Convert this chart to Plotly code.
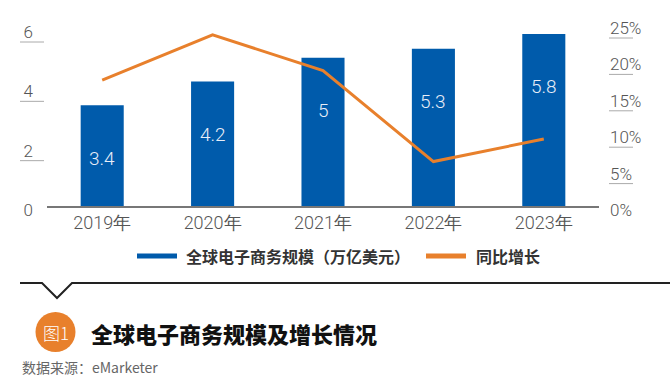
import plotly.graph_objects as go

years = ["2019年", "2020年", "2021年", "2022年", "2023年"]
scale = [3.4, 4.2, 5.0, 5.3, 5.8]
scale_labels = ["3.4", "4.2", "5", "5.3", "5.8"]
growth = [17.3, 23.5, 18.6, 6.1, 9.2]
left_ticks = [0, 2, 4, 6]
right_ticks = [0, 5, 10, 15, 20, 25]
right_tick_text = ["0%", "5%", "10%", "15%", "20%", "25%"]

BLUE = "#005BAB"
ORANGE = "#E8802C"
GREY = "#555555"
LIGHT = "Roboto, Lato, Arial, sans-serif"
CJK = "Noto Sans CJK SC"

# plot area in pixels
L, R, T, B = 47, 599, 24, 206
W, H = 670, 391


def px(x):
    return (x - L) / (R - L)


def py(y):
    return (B - y) / (B - T)


fig = go.Figure()
fig.add_trace(go.Bar(x=years, y=scale, marker=dict(color=BLUE, line=dict(width=0)),
                     name="全球电子商务规模（万亿美元）", showlegend=False, hoverinfo="x+y"))
fig.add_trace(go.Scatter(x=years, y=growth, yaxis="y2", mode="lines",
                         line=dict(color=ORANGE, width=3), name="同比增长", showlegend=False))

shapes = []
annotations = []

# value labels inside bars
for yr, v, t in zip(years, scale, scale_labels):
    annotations.append(dict(x=yr, y=v, xref="x", yref="y", text=t, showarrow=False,
                            yshift=-53, font=dict(family=LIGHT, size=19, color="#E8EEF8", weight=300)))

# underlines below tick labels
for v in left_ticks:
    shapes.append(dict(type="line", xref="paper", yref="y", xsizemode="pixel", xanchor=0,
                       ysizemode="pixel", yanchor=v, x0=-27, x1=-3, y0=-14, y1=-14,
                       line=dict(color="#AAAAAA", width=1)))
for v in right_ticks:
    shapes.append(dict(type="line", xref="paper", yref="y2", xsizemode="pixel", xanchor=1,
                       ysizemode="pixel", yanchor=v, x0=10, x1=34, y0=-14, y1=-14,
                       line=dict(color="#AAAAAA", width=1)))

# manual legend
shapes.append(dict(type="line", xref="paper", yref="paper", x0=px(137), x1=px(177), y0=py(256), y1=py(256),
                   line=dict(color=BLUE, width=5)))
shapes.append(dict(type="line", xref="paper", yref="paper", x0=px(426), x1=px(466), y0=py(256), y1=py(256),
                   line=dict(color=ORANGE, width=5)))
annotations.append(dict(xref="paper", yref="paper", x=px(184), y=py(256), xanchor="left", yanchor="middle",
                        text="<b>全球电子商务规模（万亿美元）</b>", showarrow=False,
                        font=dict(family=CJK, size=16, color="#333333")))
annotations.append(dict(xref="paper", yref="paper", x=px(474), y=py(256), xanchor="left", yanchor="middle",
                        text="<b>同比增长</b>", showarrow=False,
                        font=dict(family=CJK, size=16, color="#333333")))

# divider with notch
pts = [(20, 283), (42, 283), (57, 298), (72, 283), (670, 283)]
path = "M " + " L ".join(f"{px(x):.5f},{py(y):.5f}" for x, y in pts)
shapes.append(dict(type="path", xref="paper", yref="paper", path=path,
                   line=dict(color="#222222", width=2)))

# figure badge
shapes.append(dict(type="circle", xref="paper", yref="paper", x0=px(35.5), x1=px(75.5), y0=py(312), y1=py(352),
                   fillcolor=ORANGE, line=dict(width=0)))
annotations.append(dict(xref="paper", yref="paper", x=px(55.5), y=py(332), xanchor="center", yanchor="middle",
                        text="图1", showarrow=False, font=dict(family=CJK, size=17, color="white", weight=300)))
annotations.append(dict(xref="paper", yref="paper", x=px(89), y=py(333), xanchor="left", yanchor="middle",
                        text="全球电子商务规模及增长情况", showarrow=False,
                        font=dict(family=CJK, size=22, color="#111111", weight=900)))
annotations.append(dict(xref="paper", yref="paper", x=px(20), y=py(367), xanchor="left", yanchor="middle",
                        text="数据来源：eMarketer", showarrow=False,
                        font=dict(family=CJK, size=14, color="#666666")))

fig.update_layout(
    width=W, height=H,
    margin=dict(l=L, r=W - R, t=T, b=H - B, pad=0),
    paper_bgcolor="white", plot_bgcolor="white",
    bargap=0.61,
    showlegend=False,
    xaxis=dict(showgrid=False, showline=True, linecolor="#777777", linewidth=1.5, ticks="",
               tickfont=dict(family=LIGHT, size=18, color=GREY, weight=300)),
    yaxis=dict(range=[0, 6 * (B - T) / 178], tickvals=left_ticks, showgrid=False, zeroline=False,
               showline=False, ticks="", ticklabelstandoff=13, ticklabelshift=4,
               tickfont=dict(family=LIGHT, size=17, color=GREY, weight=300)),
    yaxis2=dict(range=[0, 25], overlaying="y", side="right", tickvals=right_ticks, ticktext=right_tick_text,
                showgrid=False, zeroline=False, showline=False, ticks="", ticklabelstandoff=10,
                ticklabelshift=4, tickfont=dict(family=LIGHT, size=17, color=GREY, weight=300)),
    shapes=shapes,
    annotations=annotations,
)

fig.write_html("out.html", config={"displayModeBar": False},
               post_script="document.body.style.margin='0';document.body.style.padding='0';")
